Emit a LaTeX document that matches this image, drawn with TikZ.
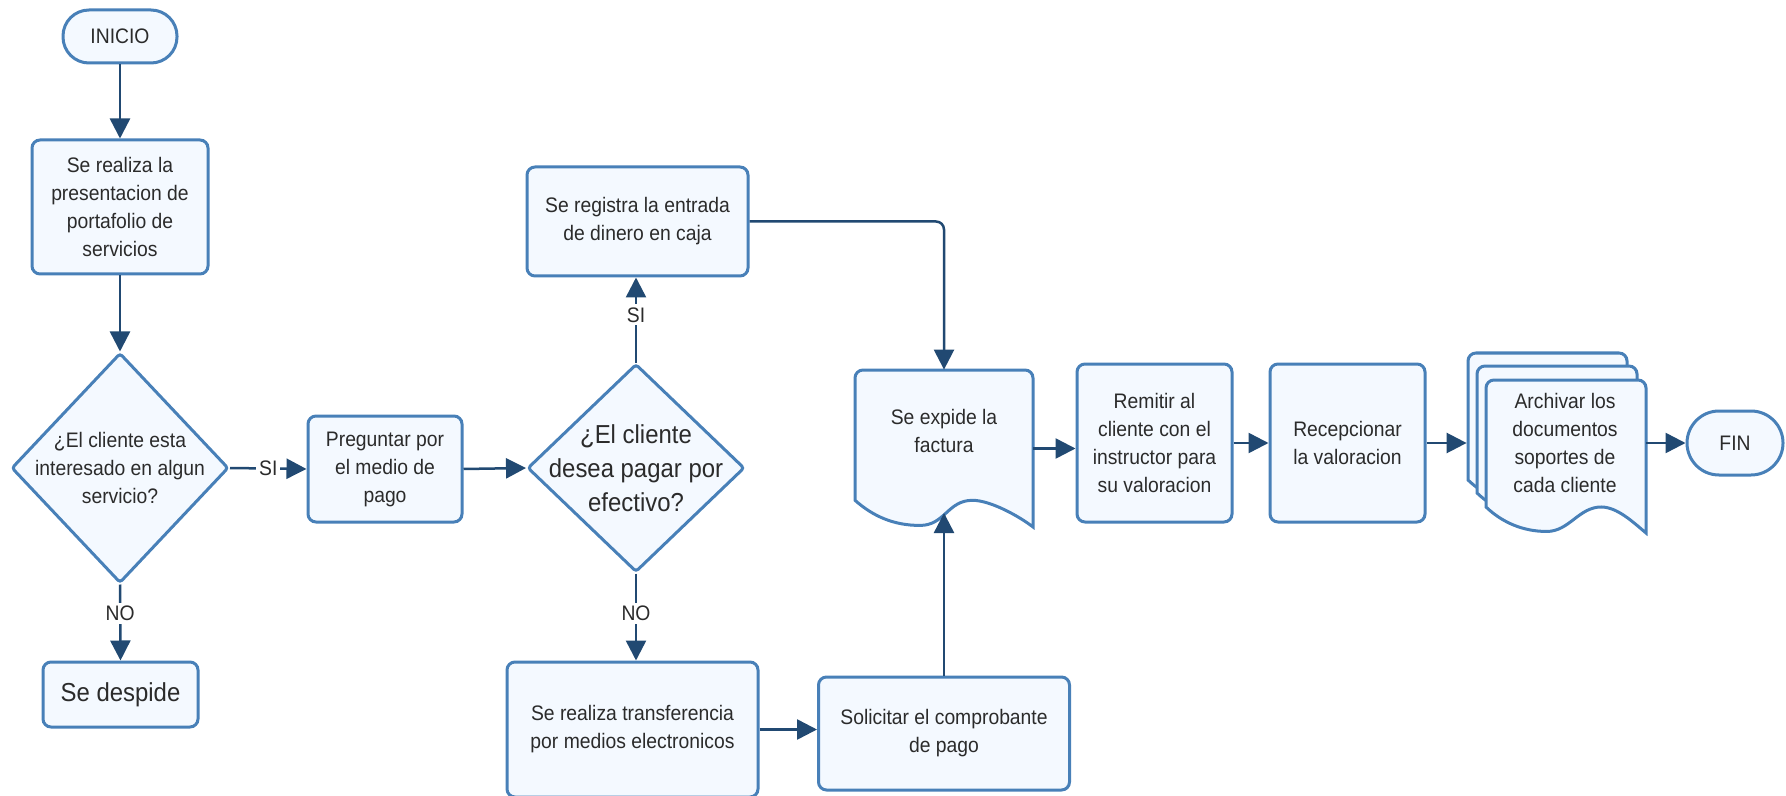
\documentclass[tikz,border=0pt]{standalone}
\usepackage{fontspec}
\setmainfont[FakeStretch=0.92]{Liberation Sans}
\usetikzlibrary{arrows.meta,shapes.geometric,calc}
\definecolor{bord}{RGB}{72,128,184}
\definecolor{fil}{RGB}{244,249,255}
\definecolor{arr}{RGB}{33,73,114}
\definecolor{txt}{RGB}{43,43,43}
% #1 left, #2 top, #3 width, #4 height, #5 trough x fraction, #6 peak x fraction
\newcommand\docpath[6]{%
\draw[docsty] (#1,{#2+0.83*#4}) -- (#1,{#2+8}) arc[start angle=180,end angle=270,radius=8] -- ({#1+#3-8},#2) arc[start angle=270,end angle=360,radius=8] -- ({#1+#3},{#2+#4}) .. controls ({#1+0.92*#3},{#2+0.93*#4}) and ({#1+(#6+0.1)*#3},{#2+0.83*#4}) .. ({#1+#6*#3},{#2+0.83*#4}) .. controls ({#1+(#6-0.14)*#3},{#2+0.83*#4}) and ({#1+(#5+0.14)*#3},{#2+0.99*#4}) .. ({#1+#5*#3},{#2+0.99*#4}) .. controls ({#1+(#5-0.15)*#3},{#2+0.99*#4}) and ({#1+0.1*#3},{#2+0.93*#4}) .. (#1,{#2+0.83*#4}) -- cycle;}
\begin{document}
\begin{tikzpicture}[x=0.5pt,y=-0.5pt,
  every node/.style={text=txt, font=\fontsize{10.5}{14}\selectfont},
  box/.style={draw=bord, fill=fil, line width=1.5pt, rounded corners=4pt, align=center, inner sep=0pt},
  term/.style={draw=bord, fill=fil, line width=1.5pt, align=center, inner sep=0pt},
  dia/.style={diamond, draw=bord, fill=fil, line width=1.5pt, inner sep=0pt, rounded corners=1.5pt},
  docsty/.style={draw=bord, fill=fil, line width=1.5pt},
  big/.style={font=\fontsize{13}{17}\selectfont},
  con/.style={draw=arr, line width=1.25pt, -{Triangle[length=10pt,width=10pt]}},
  lab/.style={fill=white, inner sep=1.5pt}
]
\useasboundingbox (0,0) rectangle (1786,796);

% nodes
\node[term, minimum width=57pt, minimum height=26.5pt, rounded corners=13pt] (ini) at (120,36.5) {INICIO};
\node[box, minimum width=88pt, minimum height=67pt] (b1) at (120,207) {Se realiza la\\presentacion de\\portafolio de\\servicios};
\node[dia, minimum width=108.5pt, minimum height=115pt] (d1) at (120,468) {};
\node[align=center] (d1t) at (120,468) {¿El cliente esta\\interesado en algun\\servicio?};
\node[box, minimum width=77pt, minimum height=53pt] (b2) at (385,469) {Preguntar por\\el medio de\\pago};
\node[dia, minimum width=108.5pt, minimum height=104pt] (d2) at (636,468) {};
\node[big, align=center] (d2t) at (636,468) {¿El cliente\\desea pagar por\\efectivo?};
\node[box, minimum width=110.5pt, minimum height=54.5pt] (b3) at (637.5,221.5) {Se registra la entrada\\de dinero en caja};
\node[box, big, minimum width=77.5pt, minimum height=32.5pt] (desp) at (120.5,694.5) {Se despide};
\node[box, minimum width=125.5pt, minimum height=67.5pt] (tr) at (632.5,729.5) {Se realiza transferencia\\por medios electronicos};
\node[box, minimum width=125.5pt, minimum height=56.5pt] (sol) at (944,733.5) {Solicitar el comprobante\\de pago};

% document: factura
\docpath{855}{370}{178}{157}{0.365}{0.66}
\node[minimum width=89pt, minimum height=78.5pt, inner sep=0pt] (doc) at (944,448.5) {};
\node[align=center] (doct) at (944,431) {Se expide la\\factura};
\coordinate (docb) at (944,513);

\node[box, minimum width=77.5pt, minimum height=79pt] (rem) at (1154.5,443) {Remitir al\\cliente con el\\instructor para\\su valoracion};
\node[box, minimum width=77.5pt, minimum height=79pt] (rec) at (1347.5,443) {Recepcionar\\la valoracion};

% multi document
\docpath{1468}{353}{159}{153}{0.38}{0.72}
\docpath{1477}{366}{160}{153}{0.38}{0.72}
\docpath{1486}{380}{160}{153}{0.38}{0.72}
\node[minimum width=89.5pt, minimum height=90pt, inner sep=0pt] (arch) at (1556.5,443) {};
\node[align=center] (archt) at (1565,442.5) {Archivar los\\documentos\\soportes de\\cada cliente};

\node[term, minimum width=48pt, minimum height=32pt, rounded corners=16pt] (fin) at (1735,443) {FIN};

% connectors
\draw[con] (ini.south) -- (b1.north);
\draw[con] (b1.south) -- (d1.north);
\draw[con] (d1.east) -- (b2.west) node[lab, pos=0.5] {SI};
\draw[con] (d1.south) -- (desp.north) node[lab, pos=0.38] {NO};
\draw[con] (b2.east) -- (d2.west);
\draw[con] (d2.north) -- (d2.north |- b3.south) node[lab, pos=0.56] {SI};
\draw[con] (d2.south) -- (d2.south |- tr.north) node[lab, pos=0.46] {NO};
\draw[con] (tr.east) -- (tr.east -| sol.west);
\draw[con] (sol.north) -- (docb);
\draw[con, rounded corners=4pt] (b3.east) -| (doc.north);
\draw[con] (doc.east) -- (doc.east -| rem.west);
\draw[con] (rem.east) -- (rec.west);
\draw[con] (rec.east) -- (arch.west);
\draw[con] (arch.east) -- (fin.west);
\end{tikzpicture}
\end{document}
